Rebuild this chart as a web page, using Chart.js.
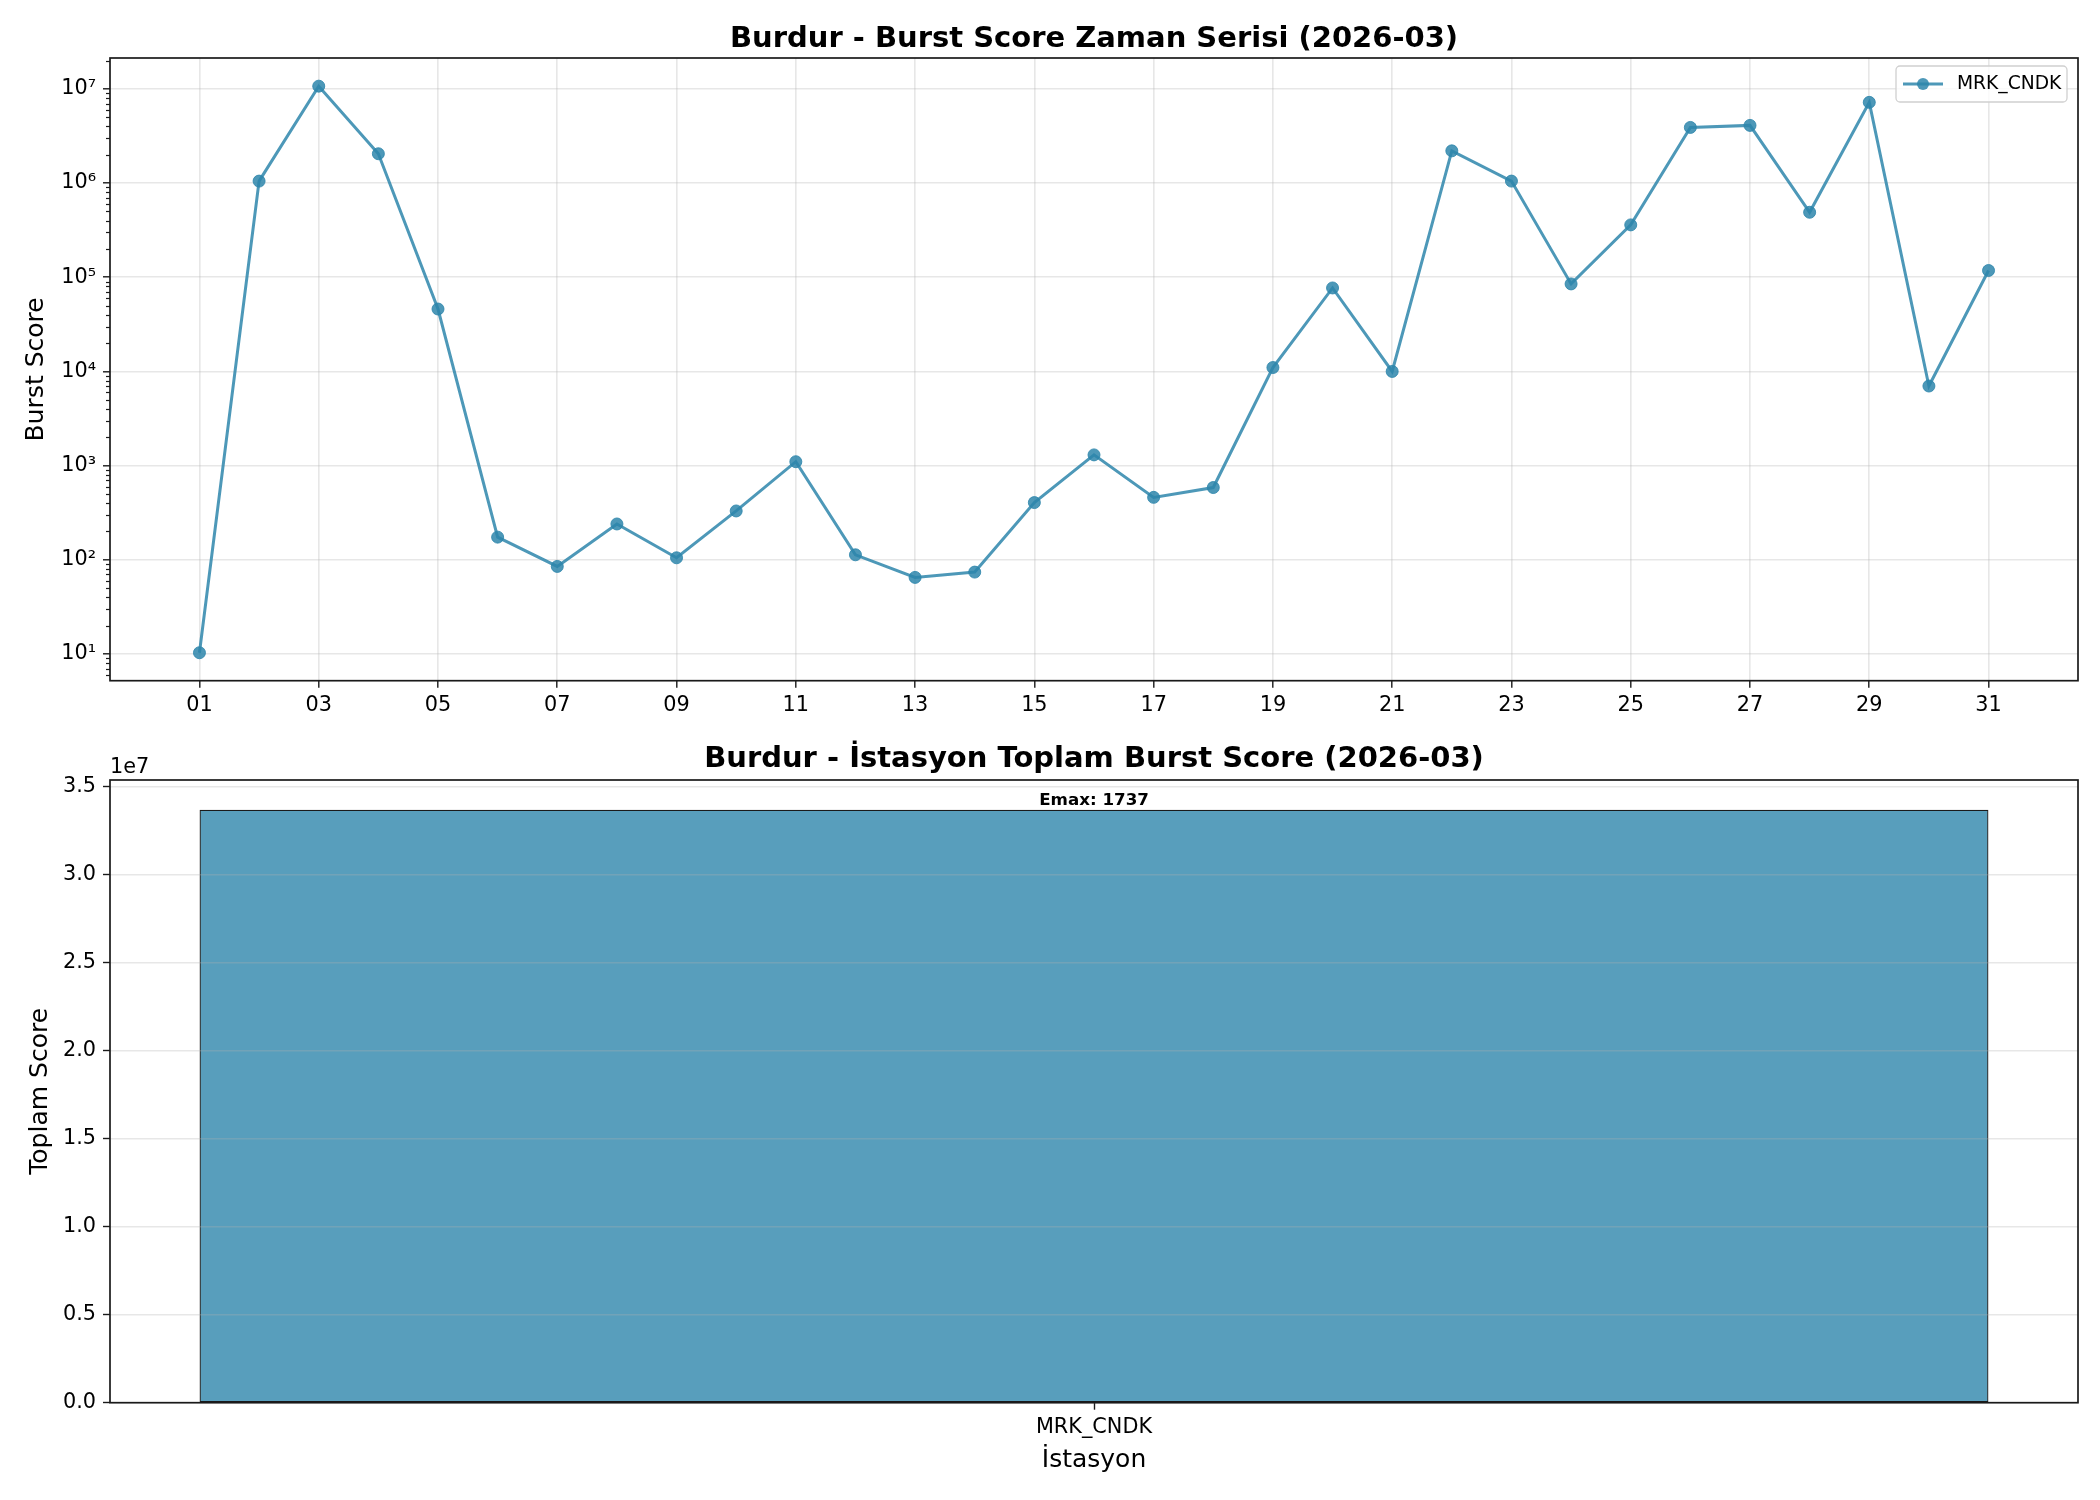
<!DOCTYPE html>
<html>
<head>
<meta charset="utf-8">
<script src="https://cdn.jsdelivr.net/npm/chart.js@4/dist/chart.umd.min.js"></script>
<style>
  body { margin: 0; background: #fff; }
  #wrap { position: relative; width: 2100px; height: 1500px; }
  #lineChart { position: absolute; left: 0; top: 0; }
  #barChart { position: absolute; left: 0; top: 720px; }
</style>
</head>
<body>
<div id="wrap">
  <canvas id="lineChart" width="2100" height="720"></canvas>
  <canvas id="barChart" width="2100" height="780"></canvas>
</div>
<script>
// --- veriler ---
const days = ['01','02','03','04','05','06','07','08','09','10','11','12','13','14','15','16',
              '17','18','19','20','21','22','23','24','25','26','27','28','29','30','31'];
const burstScores = [10.3, 1050000, 10700000, 2050000, 46000, 174, 85, 240, 105, 330, 1100,
                     113, 65, 74, 405, 1300, 460, 585, 11000, 77000, 10000, 2200000, 1050000,
                     85000, 360000, 3900000, 4100000, 490000, 7200000, 7000, 118000];
const stations = ['MRK_CNDK'];
const stationTotals = [33690000];
const stationEmax = [1737];
const logTickValues = [1e1, 1e2, 1e3, 1e4, 1e5, 1e6, 1e7];
const barTickValues = [0, 5e6, 1e7, 1.5e7, 2e7, 2.5e7, 3e7, 3.5e7];

const MAIN = 'rgba(46,134,171,0.85)';
const GRID = 'rgba(176,176,176,0.3)';
const SUP = {'0':'⁰','1':'¹','2':'²','3':'³','4':'⁴','5':'⁵','6':'⁶','7':'⁷','8':'⁸','9':'⁹'};

Chart.defaults.font.family = 'DejaVu Sans';
Chart.defaults.color = '#000';

// eksen çerçevesi (matplotlib spines)
const frame = {
    id: 'frame',
    afterDraw(chart) {
        const a = chart.chartArea, ctx = chart.ctx;
        ctx.save();
        ctx.strokeStyle = '#1a1a1a';
        ctx.lineWidth = 1.7;
        ctx.strokeRect(a.left, a.top, a.right - a.left, a.bottom - a.top);
        ctx.restore();
    }
};

// log ekseninde ara tikler
const minorTicks = {
    id: 'minorTicks',
    afterDraw(chart) {
        const y = chart.scales.y, ctx = chart.ctx, left = chart.chartArea.left;
        ctx.save();
        ctx.strokeStyle = '#1a1a1a';
        ctx.lineWidth = 1.2;
        for (let e = 0; e <= 7; e++) {
            for (let m = 2; m <= 9; m++) {
                const v = m * Math.pow(10, e);
                if (v < y.min || v > y.max) continue;
                const py = Math.round(y.getPixelForValue(v)) + 0.5;
                ctx.beginPath();
                ctx.moveTo(left - 4, py);
                ctx.lineTo(left, py);
                ctx.stroke();
            }
        }
        ctx.restore();
    }
};

// matplotlib tarzı lejant
const boxLegend = {
    id: 'boxLegend',
    afterDraw(chart) {
        const ctx = chart.ctx;
        const x = 1896, y = 66, w = 171, h = 36;
        ctx.save();
        ctx.fillStyle = 'rgba(255,255,255,0.8)';
        ctx.strokeStyle = '#d0d0d0';
        ctx.lineWidth = 1.3;
        ctx.beginPath();
        ctx.roundRect(x, y, w, h, 4);
        ctx.fill();
        ctx.stroke();
        ctx.strokeStyle = MAIN;
        ctx.lineWidth = 3;
        ctx.beginPath();
        ctx.moveTo(x + 7, y + 18);
        ctx.lineTo(x + 47, y + 18);
        ctx.stroke();
        ctx.fillStyle = MAIN;
        ctx.beginPath();
        ctx.arc(x + 27, y + 18, 6, 0, Math.PI * 2);
        ctx.fill();
        ctx.fillStyle = '#000';
        ctx.font = '18.7px "DejaVu Sans"';
        ctx.textBaseline = 'middle';
        ctx.fillText(chart.data.datasets[0].label, x + 61, y + 18);
        ctx.restore();
    }
};

new Chart(document.getElementById('lineChart'), {
    type: 'line',
    data: {
        datasets: [{
            label: stations[0],
            data: burstScores.map((v, i) => ({ x: i, y: v })),
            borderColor: MAIN,
            backgroundColor: MAIN,
            pointBackgroundColor: MAIN,
            pointBorderColor: MAIN,
            borderWidth: 3,
            pointRadius: 6,
            pointBorderWidth: 1,
            tension: 0
        }]
    },
    options: {
        responsive: false,
        devicePixelRatio: 1,
        animation: false,
        layout: { padding: { left: 0, right: 22, top: 0, bottom: 0 } },
        plugins: {
            legend: { display: false },
            tooltip: { enabled: false },
            title: {
                display: true,
                fullSize: false,
                text: 'Burdur - Burst Score Zaman Serisi (2026-03)',
                font: { size: 29, weight: 'bold' },
                color: '#000',
                padding: { top: 21.6, bottom: 1.6 }
            }
        },
        scales: {
            x: {
                type: 'linear',
                min: -1.5,
                max: 31.5,
                afterBuildTicks(scale) {
                    scale.ticks = days.map((d, i) => ({ value: i })).filter(t => t.value % 2 === 0);
                },
                afterFit(scale) { scale.height = 39.3; },
                ticks: {
                    callback: v => days[v],
                    font: { size: 20.8 },
                    padding: 5,
                    maxRotation: 0,
                    autoSkip: false
                },
                grid: { color: GRID, lineWidth: 1.6, tickColor: '#1a1a1a', tickLength: 7, tickWidth: 1.4 },
                border: { display: false }
            },
            y: {
                type: 'logarithmic',
                min: 5.2,
                max: 2.13e7,
                afterBuildTicks(scale) {
                    scale.ticks = logTickValues.map(v => ({ value: v }));
                },
                afterFit(scale) { scale.width = 110; },
                ticks: {
                    callback: v => '10' + String(Math.round(Math.log10(v))).split('').map(c => SUP[c]).join(''),
                    font: { size: 20.8 },
                    padding: 7,
                    autoSkip: false
                },
                grid: { color: GRID, lineWidth: 1.6, tickColor: '#1a1a1a', tickLength: 7, tickWidth: 1.4 },
                border: { display: false },
                title: {
                    display: true,
                    text: 'Burst Score',
                    font: { size: 25 },
                    padding: { top: 21, bottom: 0 }
                }
            }
        }
    },
    plugins: [frame, minorTicks, boxLegend]
});

// çubuk grafikte ızgara çubuğun üstünde
const gridOnTop = {
    id: 'gridOnTop',
    afterDatasetsDraw(chart) {
        const y = chart.scales.y, a = chart.chartArea, ctx = chart.ctx;
        ctx.save();
        ctx.strokeStyle = GRID;
        ctx.lineWidth = 1.6;
        y.ticks.forEach(t => {
            const py = y.getPixelForValue(t.value);
            ctx.beginPath();
            ctx.moveTo(a.left, py);
            ctx.lineTo(a.right, py);
            ctx.stroke();
        });
        ctx.restore();
    }
};

const barLabels = {
    id: 'barLabels',
    afterDatasetsDraw(chart) {
        const ctx = chart.ctx, meta = chart.getDatasetMeta(0);
        ctx.save();
        ctx.fillStyle = '#000';
        ctx.font = 'bold 16.7px "DejaVu Sans"';
        ctx.textAlign = 'center';
        ctx.textBaseline = 'alphabetic';
        meta.data.forEach((bar, i) => {
            ctx.fillText('Emax: ' + stationEmax[i], bar.x, bar.y - 5);
        });
        // ofset metni
        ctx.textAlign = 'left';
        ctx.font = '20.8px "DejaVu Sans"';
        ctx.fillText('1e7', chart.chartArea.left, 52.5);
        ctx.restore();
    }
};

new Chart(document.getElementById('barChart'), {
    type: 'bar',
    data: {
        labels: stations,
        datasets: [{
            label: 'Toplam',
            data: stationTotals,
            backgroundColor: 'rgba(46,134,171,0.8)',
            borderColor: '#1a1a1a',
            borderWidth: 1.3,
            borderSkipped: false,
            barPercentage: 0.909,
            categoryPercentage: 1
        }]
    },
    options: {
        responsive: false,
        devicePixelRatio: 1,
        animation: false,
        layout: { padding: { left: 0, right: 22, top: 0, bottom: 0 } },
        plugins: {
            legend: { display: false },
            tooltip: { enabled: false },
            title: {
                display: true,
                fullSize: false,
                text: 'Burdur - İstasyon Toplam Burst Score (2026-03)',
                font: { size: 29, weight: 'bold' },
                color: '#000',
                padding: { top: 21.6, bottom: 3.6 }
            }
        },
        scales: {
            x: {
                afterFit(scale) { scale.height = 97.3; },
                ticks: { font: { size: 20.8 }, padding: 5 },
                grid: { offset: false, drawOnChartArea: false, tickColor: '#1a1a1a', tickLength: 7, tickWidth: 1.4 },
                border: { display: false },
                title: {
                    display: true,
                    text: 'İstasyon',
                    font: { size: 25 },
                    padding: { top: 0, bottom: 25 }
                }
            },
            y: {
                min: 0,
                max: 3.538e7,
                afterBuildTicks(scale) {
                    scale.ticks = barTickValues.map(v => ({ value: v }));
                },
                afterFit(scale) { scale.width = 110; },
                ticks: {
                    callback: v => (v / 1e7).toFixed(1),
                    font: { size: 20.8 },
                    padding: 7,
                    autoSkip: false
                },
                grid: { drawOnChartArea: false, tickColor: '#1a1a1a', tickLength: 7, tickWidth: 1.4 },
                border: { display: false },
                title: {
                    display: true,
                    text: 'Toplam Score',
                    font: { size: 25 },
                    padding: { top: 25, bottom: 0 }
                }
            }
        }
    },
    plugins: [frame, gridOnTop, barLabels]
});
</script>
</body>
</html>
